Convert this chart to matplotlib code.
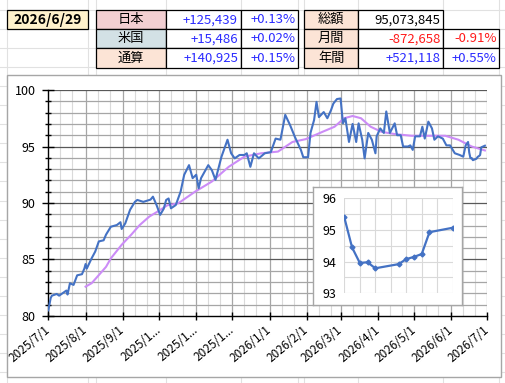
import matplotlib
matplotlib.use('Agg')
import matplotlib.pyplot as plt
from matplotlib.patches import Rectangle
import pandas as pd

plt.rcParams['font.family'] = ['Noto Sans CJK JP', 'DejaVu Sans']

# --- data ---
main_dates = [
    '2025-07-01', '2025-07-03', '2025-07-04', '2025-07-08', '2025-07-10', '2025-07-14',
    '2025-07-16', '2025-07-17', '2025-07-19', '2025-07-22', '2025-07-25', '2025-07-29',
    '2025-07-31', '2025-08-01', '2025-08-02', '2025-08-06', '2025-08-09', '2025-08-12',
    '2025-08-16', '2025-08-18', '2025-08-22', '2025-08-27', '2025-08-30', '2025-08-31',
    '2025-09-03', '2025-09-07', '2025-09-11', '2025-09-13', '2025-09-18', '2025-09-21',
    '2025-09-24', '2025-09-26', '2025-09-29', '2025-10-02', '2025-10-05', '2025-10-07',
    '2025-10-09', '2025-10-11', '2025-10-15', '2025-10-17', '2025-10-19', '2025-10-22',
    '2025-10-26', '2025-10-29', '2025-11-01', '2025-11-03', '2025-11-05', '2025-11-11',
    '2025-11-14', '2025-11-17', '2025-11-22', '2025-11-27', '2025-11-30', '2025-12-03',
    '2025-12-07', '2025-12-11', '2025-12-13', '2025-12-16', '2025-12-19', '2025-12-23',
    '2025-12-28', '2026-01-02', '2026-01-06', '2026-01-10', '2026-01-14', '2026-01-18',
    '2026-01-22', '2026-01-27', '2026-01-29', '2026-02-02', '2026-02-04', '2026-02-07',
    '2026-02-09', '2026-02-11', '2026-02-15', '2026-02-18', '2026-02-21', '2026-02-23',
    '2026-02-26', '2026-03-01', '2026-03-03', '2026-03-05', '2026-03-08', '2026-03-11',
    '2026-03-14', '2026-03-16', '2026-03-19', '2026-03-21', '2026-03-24', '2026-03-27',
    '2026-03-30', '2026-03-31', '2026-04-03', '2026-04-06', '2026-04-08', '2026-04-11',
    '2026-04-15', '2026-04-17', '2026-04-20', '2026-04-22', '2026-04-26', '2026-04-28',
    '2026-04-30', '2026-05-02', '2026-05-06', '2026-05-08', '2026-05-10', '2026-05-13',
    '2026-05-16', '2026-05-18', '2026-05-21', '2026-05-25', '2026-05-28', '2026-05-31',
    '2026-06-04', '2026-06-08', '2026-06-11', '2026-06-13',
]
main_values = [
    80.5, 81.6, 81.8, 81.95, 81.8, 82.1,
    82.25, 81.9, 82.9, 82.75, 83.6, 83.7,
    84.2, 84.6, 84.2, 85.1, 85.7, 86.6,
    86.7, 87.2, 87.9, 88.05, 88.3, 87.7,
    88.2, 89.4, 90.1, 90.27, 90.1, 90.2,
    90.3, 90.56, 89.82, 88.95, 89.5, 90.27,
    90.4, 89.53, 89.82, 90.4, 91.0, 92.5,
    93.35, 92.2, 92.5, 91.3, 92.2, 93.35,
    92.9, 92.05, 94.1, 95.6, 94.4, 93.95,
    94.25, 94.25, 94.4, 93.2, 94.4, 93.95,
    94.4, 94.5, 95.7, 95.6, 97.8, 96.9,
    95.85, 94.7, 94.05, 94.05, 96.2, 97.35,
    98.95, 97.6, 98.05, 97.5, 98.2, 98.8,
    99.2, 99.25, 97.05, 97.5, 95.4, 97.0,
    95.4, 97.05, 95.6, 93.95, 96.2, 95.6,
    94.4, 95.9, 96.6, 96.2, 98.1, 96.2,
    97.05, 96.0, 96.0, 95.0, 95.0, 95.1,
    94.7, 95.9, 95.9, 96.75, 95.7, 97.2,
    96.6, 95.6, 95.9, 95.7, 95.1, 95.1,
    94.4, 94.25, 94.1, 95.1,
]

# last two weeks (also shown in the inset)
recent_dates = ['2026-06-15', '2026-06-16', '2026-06-17', '2026-06-18', '2026-06-19',
                '2026-06-22', '2026-06-23', '2026-06-24', '2026-06-25', '2026-06-26',
                '2026-06-29']
recent_values = [95.40, 94.45, 93.96, 93.98, 93.79, 93.92, 94.08, 94.15, 94.24, 94.93, 95.07]

avg_dates = [
    '2025-08-01', '2025-08-06', '2025-08-11', '2025-08-18', '2025-08-22', '2025-08-31',
    '2025-09-08', '2025-09-15', '2025-09-23', '2025-09-30', '2025-10-08', '2025-10-17',
    '2025-10-31', '2025-11-14', '2025-11-28', '2025-12-11', '2025-12-25', '2026-01-08',
    '2026-01-20', '2026-01-31', '2026-02-14', '2026-02-24', '2026-03-04', '2026-03-11',
    '2026-03-18', '2026-03-26', '2026-04-04', '2026-04-15', '2026-04-29', '2026-05-13',
    '2026-05-27', '2026-06-07', '2026-06-18', '2026-06-29',
]
avg_values = [
    82.6, 82.9, 83.5, 84.35, 85.1, 86.3,
    87.2, 88.05, 88.8, 89.25, 89.8, 89.97,
    91.0, 91.9, 93.2, 94.1, 94.4, 94.55,
    95.4, 95.65, 96.3, 96.75, 97.5, 97.7,
    97.5, 96.75, 96.3, 96.1, 95.95, 95.95,
    95.95, 95.6, 95.0, 94.65,
]

month_labels = ['2025/7/1', '2025/8/1', '2025/9/1', '2025/1...', '2025/1...', '2025/1...',
                '2026/1/1', '2026/2/1', '2026/3/1', '2026/4/1', '2026/5/1', '2026/6/1',
                '2026/7/1']

date_text = '2026/6/29'
left_rows = [('日本', '+125,439', '+0.13%'),
             ('米国', '+15,486', '+0.02%'),
             ('通算', '+140,925', '+0.15%')]
right_rows = [('総額', '95,073,845', ''),
              ('月間', '-872,658', '-0.91%'),
              ('年間', '+521,118', '+0.55%')]

BLUE = '#4472c4'
VIOLET = '#cc8cf7'
W, H = 505, 383

fig = plt.figure(figsize=(W / 100, H / 100), dpi=100)

# ---- spreadsheet background ----
bg = fig.add_axes([0, 0, 1, 1])
bg.set_xlim(0, W)
bg.set_ylim(H, 0)
bg.axis('off')
cell_cols = [7.3, 88.3, 95.7, 165.7, 240.7, 297.7, 304.3, 358.3, 443.3, 499]
for x in cell_cols:
    bg.axvline(x, color='#e1e1e1', lw=0.8, zorder=0)
y = 10
while y < H:
    bg.axhline(y, color='#e1e1e1', lw=0.8, zorder=0)
    y += 19.05

def cell(x0, x1, y0, y1, fill):
    bg.add_patch(Rectangle((x0, y0), x1 - x0, y1 - y0, facecolor=fill,
                           edgecolor='black', lw=0.9, zorder=2))

rows_y = [10, 29.3, 48.3, 68.3]
# date cell
cell(7.3, 88.3, 10, 29.3, '#fff2cc')
bg.text(47.8, 19.8, date_text, ha='center', va='center', fontsize=10,
        fontweight='bold', zorder=3)

left_fill = ['#f2cfd2', '#d3e1e5', '#fce4d6']
for i, (lab, val, pct) in enumerate(left_rows):
    y0, y1 = rows_y[i], rows_y[i + 1]
    cell(95.7, 165.7, y0, y1, left_fill[i])
    cell(165.7, 240.7, y0, y1, 'white')
    cell(240.7, 297.7, y0, y1, 'white')
    yc = (y0 + y1) / 2
    bg.text(130.7, yc, lab, ha='center', va='center', fontsize=9.5, zorder=3)
    bg.text(238, yc, val, ha='right', va='center', fontsize=9.5, color='#2b2bff', zorder=3)
    bg.text(295.5, yc, pct, ha='right', va='center', fontsize=9.5, color='#2b2bff', zorder=3)

right_color = ['black', '#ff1a1a', '#2b2bff']
for i, (lab, val, pct) in enumerate(right_rows):
    y0, y1 = rows_y[i], rows_y[i + 1]
    cell(304.3, 358.3, y0, y1, '#fce4d6')
    cell(358.3, 443.3, y0, y1, 'white')
    if pct:
        cell(443.3, 499, y0, y1, 'white')
    yc = (y0 + y1) / 2
    bg.text(331.3, yc, lab, ha='center', va='center', fontsize=9.5, zorder=3)
    bg.text(440.5, yc, val, ha='right', va='center', fontsize=9.5,
            color=right_color[i], zorder=3)
    if pct:
        bg.text(496.5, yc, pct, ha='right', va='center', fontsize=9.5,
                color=right_color[i], zorder=3)

# chart area frame
bg.add_patch(Rectangle((7.3, 75), 493.4, 302, facecolor='white',
                       edgecolor='#a6a6a6', lw=1, zorder=4))

# ---- main chart ----
def fig_rect(x0, x1, y_top, y_bot):
    return [x0 / W, (H - y_bot) / H, (x1 - x0) / W, (y_bot - y_top) / H]

ax = fig.add_axes(fig_rect(48.3, 487.3, 90, 316))
ax.set_zorder(2)
ax.set_facecolor('none')

d_main = pd.to_datetime(main_dates + recent_dates)
v_main = main_values + recent_values
d_avg = pd.to_datetime(avg_dates)

ax.plot(d_avg, avg_values, color=VIOLET, lw=1.5, zorder=3)
ax.plot(d_main, v_main, color=BLUE, lw=1.5, zorder=4)

start, end = pd.Timestamp('2025-07-01'), pd.Timestamp('2026-07-01')
ax.set_xlim(start, end)
ax.set_ylim(80, 100)

months = pd.date_range(start, end, freq='MS')
ax.set_xticks(months)
ax.set_xticklabels(month_labels, rotation=40, ha='right', va='center',
                   rotation_mode='anchor', fontsize=8.5)
minor_x = [m + pd.Timedelta(days=k) for m in months[:-1] for k in (10, 20)]
for mx in minor_x:
    ax.axvline(mx, color='#dadada', lw=0.8, zorder=0)
for mx in months[1:]:
    ax.axvline(mx, color='#a6a6a6', lw=0.9, zorder=1)

ax.set_yticks(range(80, 101, 5))
ax.set_yticks(range(80, 101), minor=True)
for v in range(81, 101):
    ax.axhline(v, color='#595959' if v % 5 == 0 else '#a6a6a6',
               lw=0.9, zorder=1)

ax.tick_params(axis='y', which='major', direction='inout', length=8, width=1,
               labelsize=9, pad=5)
ax.tick_params(axis='y', which='minor', direction='inout', length=5, width=1)
ax.tick_params(axis='x', which='major', direction='inout', length=6, width=1, pad=6)
ax.tick_params(axis='x', which='minor', length=0)
for s in ('top', 'right'):
    ax.spines[s].set_visible(False)
for s in ('left', 'bottom'):
    ax.spines[s].set_color('black')
    ax.spines[s].set_linewidth(1)

# ---- inset chart ----
frame = fig.add_axes(fig_rect(313.3, 462.3, 187.3, 305))
frame.set_zorder(5)
frame.set_xticks([])
frame.set_yticks([])
for s in frame.spines.values():
    s.set_color('#a6a6a6')
    s.set_linewidth(1)

ins = fig.add_axes(fig_rect(344.3, 452.7, 198.3, 293.3))
ins.set_zorder(6)
ins.set_facecolor('none')
d_rec = pd.to_datetime(recent_dates)
ins.plot(d_rec, recent_values, color=BLUE, lw=1.6, marker='D', markersize=2.5, zorder=3)
ins.set_xlim(pd.Timestamp('2026-06-15'), pd.Timestamp('2026-06-29'))
ins.set_ylim(93, 96)
ins.set_yticks([93, 94, 95, 96])
ins.set_yticks([93.5, 94.5, 95.5], minor=True)
ins.set_xticks(pd.date_range('2026-06-15', '2026-06-29', freq='2D'))
ins.grid(True, which='both', color='#d9d9d9', lw=0.8)
ins.set_axisbelow(True)
ins.tick_params(axis='x', length=0, labelbottom=False)
ins.tick_params(axis='y', which='both', length=0, labelsize=9, pad=6)
for s in ins.spines.values():
    s.set_visible(False)

fig.savefig('out.png', dpi=100)
